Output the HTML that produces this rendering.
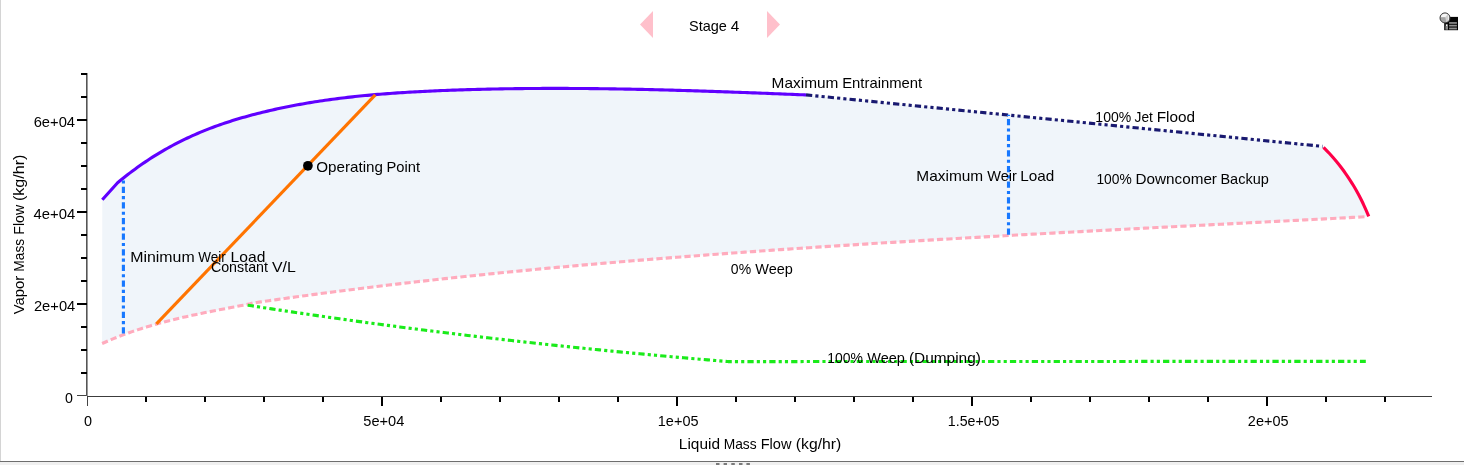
<!DOCTYPE html>
<html><head><meta charset="utf-8"><title>Stage 4</title>
<style>
html,body{margin:0;padding:0;background:#fff;}
body{width:1464px;height:465px;overflow:hidden;position:relative;}
svg{display:block;position:absolute;left:0;top:0;will-change:transform;}
</style></head>
<body>
<svg width="1464" height="465" viewBox="0 0 1464 465">
<rect x="0" y="0" width="1464" height="465" fill="#fff"/>
<rect x="0" y="0" width="1" height="462" fill="#d4d4d4"/>
<rect x="0" y="461" width="1464" height="1" fill="#6e6e6e"/>
<rect x="0" y="462" width="1464" height="3" fill="#f0f0f0"/>
<g fill="#7a7a7a"><rect x="716" y="463" width="3.5" height="2"/><rect x="723.6" y="463" width="3.4" height="2"/><rect x="731.3" y="463" width="3.5" height="2"/><rect x="739" y="463" width="3.5" height="2"/><rect x="746.4" y="463" width="3.5" height="2"/></g>
<polygon points="102.30,199.80 117.60,182.80 120.00,180.80 122.50,178.76 125.00,176.76 127.50,174.80 130.00,172.87 132.50,170.99 135.00,169.14 137.50,167.33 140.00,165.55 142.50,163.81 145.00,162.10 147.50,160.43 150.00,158.79 152.50,157.19 155.00,155.62 157.50,154.08 160.00,152.57 162.50,151.09 165.00,149.65 167.50,148.24 170.00,146.85 172.50,145.50 175.00,144.18 177.50,142.88 180.00,141.61 182.50,140.37 185.00,139.16 187.50,137.97 190.00,136.81 192.50,135.68 195.00,134.57 197.50,133.48 200.00,132.42 202.50,131.39 205.00,130.37 207.50,129.38 210.00,128.41 212.50,127.47 215.00,126.54 217.50,125.63 220.00,124.75 222.50,123.88 225.00,123.04 227.50,122.21 230.00,121.40 232.50,120.61 235.00,119.83 237.50,119.08 240.00,118.33 242.50,117.61 245.00,116.90 247.50,116.20 250.00,115.52 252.50,114.85 255.00,114.20 257.50,113.56 260.00,112.93 262.50,112.31 265.00,111.70 267.50,111.11 270.00,110.52 272.50,109.95 275.00,109.39 277.50,108.84 280.00,108.30 282.50,107.77 285.00,107.26 287.50,106.75 290.00,106.25 292.50,105.77 295.00,105.29 297.50,104.82 300.00,104.37 302.50,103.92 305.00,103.48 307.50,103.06 310.00,102.64 312.50,102.23 315.00,101.83 317.50,101.44 320.00,101.06 322.50,100.68 325.00,100.32 327.50,99.96 330.00,99.62 332.50,99.28 335.00,98.94 337.50,98.62 340.00,98.31 342.50,98.00 345.00,97.70 347.50,97.40 350.00,97.12 352.50,96.84 355.00,96.57 357.50,96.31 360.00,96.05 362.50,95.80 365.00,95.55 367.50,95.32 370.00,95.08 372.50,94.86 375.00,94.64 377.50,94.43 380.00,94.22 382.50,94.02 385.00,93.82 387.50,93.63 390.00,93.45 392.50,93.27 395.00,93.09 397.50,92.92 400.00,92.76 402.50,92.59 405.00,92.44 407.50,92.29 410.00,92.14 412.50,92.00 415.00,91.86 417.50,91.72 420.00,91.59 422.50,91.46 425.00,91.34 427.50,91.22 430.00,91.10 432.50,90.99 435.00,90.88 437.50,90.77 440.00,90.66 442.50,90.56 445.00,90.46 447.50,90.36 450.00,90.27 452.50,90.17 455.00,90.08 457.50,90.00 460.00,89.91 462.50,89.83 465.00,89.75 467.50,89.67 470.00,89.60 472.50,89.53 475.00,89.46 477.50,89.39 480.00,89.32 482.50,89.26 485.00,89.20 487.50,89.14 490.00,89.09 492.50,89.03 495.00,88.98 497.50,88.94 500.00,88.89 502.50,88.84 505.00,88.80 507.50,88.76 510.00,88.73 512.50,88.69 515.00,88.66 517.50,88.63 520.00,88.60 522.50,88.57 525.00,88.55 527.50,88.52 530.00,88.50 532.50,88.48 535.00,88.47 537.50,88.45 540.00,88.44 542.50,88.43 545.00,88.42 547.50,88.41 550.00,88.41 552.50,88.41 555.00,88.41 557.50,88.41 560.00,88.41 562.50,88.41 565.00,88.42 567.50,88.43 570.00,88.44 572.50,88.45 575.00,88.46 577.50,88.48 580.00,88.50 582.50,88.52 585.00,88.54 587.50,88.56 590.00,88.58 592.50,88.61 595.00,88.63 597.50,88.66 600.00,88.69 602.50,88.72 605.00,88.76 607.50,88.79 610.00,88.83 612.50,88.87 615.00,88.91 617.50,88.95 620.00,88.99 622.50,89.03 625.00,89.08 627.50,89.12 630.00,89.17 632.50,89.22 635.00,89.27 637.50,89.32 640.00,89.38 642.50,89.43 645.00,89.49 647.50,89.54 650.00,89.60 652.50,89.66 655.00,89.72 657.50,89.78 660.00,89.84 662.50,89.91 665.00,89.97 667.50,90.04 670.00,90.11 672.50,90.18 675.00,90.25 677.50,90.32 680.00,90.39 682.50,90.46 685.00,90.53 687.50,90.61 690.00,90.68 692.50,90.76 695.00,90.84 697.50,90.92 700.00,91.00 702.50,91.08 705.00,91.16 707.50,91.24 710.00,91.32 712.50,91.40 715.00,91.49 717.50,91.57 720.00,91.66 722.50,91.75 725.00,91.83 727.50,91.92 730.00,92.01 732.50,92.10 735.00,92.19 737.50,92.28 740.00,92.37 742.50,92.46 745.00,92.55 747.50,92.65 750.00,92.74 752.50,92.83 755.00,92.93 757.50,93.02 760.00,93.12 762.50,93.21 765.00,93.31 767.50,93.41 770.00,93.50 772.50,93.60 775.00,93.70 777.50,93.80 780.00,93.90 782.50,94.00 785.00,94.10 787.50,94.20 790.00,94.30 792.50,94.40 795.00,94.50 797.50,94.60 800.00,94.70 802.50,94.80 805.00,94.90 806.00,94.94 1322.60,146.40 1325.47,149.30 1327.38,151.30 1329.25,153.30 1331.06,155.30 1332.83,157.30 1334.56,159.30 1336.24,161.30 1337.88,163.30 1339.47,165.30 1341.02,167.30 1342.54,169.30 1344.01,171.30 1345.44,173.30 1346.84,175.30 1348.20,177.30 1349.52,179.30 1350.81,181.30 1352.07,183.30 1353.29,185.30 1354.48,187.30 1355.64,189.30 1356.76,191.30 1357.86,193.30 1358.93,195.30 1359.98,197.30 1360.99,199.30 1361.99,201.30 1362.95,203.30 1363.90,205.30 1364.82,207.30 1365.72,209.30 1366.60,211.30 1367.46,213.30 1368.30,215.30 1368.75,216.40 1365.00,216.78 1364.70,216.79 1360.70,217.00 1356.70,217.21 1352.70,217.42 1348.70,217.63 1344.70,217.84 1340.70,218.05 1336.70,218.26 1332.70,218.47 1328.70,218.67 1324.70,218.88 1320.70,219.09 1316.70,219.30 1312.70,219.50 1308.70,219.71 1304.70,219.92 1300.70,220.12 1296.70,220.33 1292.70,220.54 1288.70,220.74 1284.70,220.95 1280.70,221.16 1276.70,221.36 1272.70,221.57 1268.70,221.77 1264.70,221.98 1260.70,222.19 1256.70,222.39 1252.70,222.60 1248.70,222.80 1244.70,223.01 1240.70,223.21 1236.70,223.42 1232.70,223.63 1228.70,223.83 1224.70,224.04 1220.70,224.24 1216.70,224.45 1212.70,224.65 1208.70,224.86 1204.70,225.07 1200.70,225.27 1196.70,225.48 1192.70,225.69 1188.70,225.89 1184.70,226.10 1180.70,226.31 1176.70,226.51 1172.70,226.72 1168.70,226.93 1164.70,227.14 1160.70,227.35 1156.70,227.55 1152.70,227.76 1148.70,227.97 1144.70,228.18 1140.70,228.39 1136.70,228.60 1132.70,228.81 1128.70,229.02 1124.70,229.23 1120.70,229.44 1116.70,229.65 1112.70,229.86 1108.70,230.07 1104.70,230.29 1100.70,230.50 1096.70,230.71 1092.70,230.92 1088.70,231.14 1084.70,231.35 1080.70,231.57 1076.70,231.78 1072.70,232.00 1068.70,232.21 1064.70,232.43 1060.70,232.65 1056.70,232.86 1052.70,233.08 1048.70,233.30 1044.70,233.52 1040.70,233.74 1036.70,233.96 1032.70,234.18 1028.70,234.40 1024.70,234.62 1020.70,234.84 1016.70,235.06 1012.70,235.29 1008.70,235.51 1004.70,235.74 1000.70,235.96 996.70,236.19 992.70,236.41 988.70,236.64 984.70,236.87 980.70,237.10 976.70,237.33 972.70,237.56 968.70,237.79 964.70,238.02 960.70,238.25 956.70,238.48 952.70,238.72 948.70,238.95 944.70,239.19 940.70,239.42 936.70,239.66 932.70,239.90 928.70,240.13 924.70,240.37 920.70,240.61 916.70,240.85 912.70,241.10 908.70,241.34 904.70,241.58 900.70,241.83 896.70,242.07 892.70,242.32 888.70,242.56 884.70,242.81 880.70,243.06 876.70,243.31 872.70,243.56 868.70,243.81 864.70,244.07 860.70,244.32 856.70,244.57 852.70,244.83 848.70,245.09 844.70,245.35 840.70,245.60 836.70,245.86 832.70,246.13 828.70,246.39 824.70,246.65 820.70,246.91 816.70,247.18 812.70,247.45 808.70,247.71 804.70,247.98 800.70,248.25 796.70,248.52 792.70,248.80 788.70,249.07 784.70,249.35 780.70,249.62 776.70,249.90 772.70,250.18 768.70,250.46 764.70,250.74 760.70,251.02 756.70,251.30 752.70,251.59 748.70,251.87 744.70,252.16 740.70,252.45 736.70,252.74 732.70,253.03 728.70,253.32 724.70,253.62 720.70,253.91 716.70,254.21 712.70,254.51 708.70,254.81 704.70,255.11 700.70,255.41 696.70,255.71 692.70,256.02 688.70,256.33 684.70,256.63 680.70,256.94 676.70,257.26 672.70,257.57 668.70,257.88 664.70,258.20 660.70,258.52 656.70,258.84 652.70,259.16 648.70,259.48 644.70,259.81 640.70,260.13 636.70,260.46 632.70,260.79 628.70,261.13 624.70,261.46 620.70,261.79 616.70,262.13 612.70,262.47 608.70,262.81 604.70,263.16 600.70,263.50 596.70,263.85 592.70,264.20 588.70,264.55 584.70,264.90 580.70,265.26 576.70,265.61 572.70,265.97 568.70,266.34 564.70,266.70 560.70,267.06 556.70,267.43 552.70,267.80 548.70,268.17 544.70,268.55 540.70,268.92 536.70,269.30 532.70,269.68 528.70,270.07 524.70,270.45 520.70,270.84 516.70,271.23 512.70,271.62 508.70,272.02 504.70,272.42 500.70,272.81 496.70,273.22 492.70,273.62 488.70,274.03 484.70,274.44 480.70,274.85 476.70,275.26 472.70,275.68 468.70,276.10 464.70,276.52 460.70,276.95 456.70,277.37 452.70,277.80 448.70,278.24 444.70,278.67 440.70,279.11 436.70,279.55 432.70,279.99 428.70,280.44 424.70,280.89 420.70,281.34 416.70,281.79 412.70,282.25 408.70,282.71 404.70,283.17 400.70,283.64 396.70,284.10 392.70,284.57 388.70,285.05 384.70,285.53 380.70,286.01 376.70,286.49 372.70,286.97 368.70,287.46 364.70,287.96 360.70,288.45 356.70,288.95 352.70,289.45 348.70,289.95 344.70,290.46 340.70,290.97 336.70,291.49 332.70,292.00 328.70,292.52 324.70,293.05 320.70,293.57 316.70,294.10 312.70,294.63 308.70,295.17 304.70,295.71 300.70,296.25 296.70,296.80 292.70,297.35 288.70,297.90 284.70,298.46 280.70,299.02 276.70,299.58 272.70,300.15 268.70,300.72 264.70,301.29 260.70,301.87 256.70,302.45 252.70,303.03 249.70,303.94 249.10,304.06 246.10,304.64 243.10,305.22 240.10,305.80 237.10,306.38 234.10,306.95 231.10,307.53 228.10,308.10 225.10,308.68 222.10,309.26 219.10,309.84 216.10,310.42 213.10,311.01 210.10,311.60 207.10,312.20 204.10,312.81 201.10,313.43 198.10,314.05 195.10,314.69 192.10,315.33 189.10,315.98 186.10,316.65 183.10,317.33 180.10,318.03 177.10,318.73 174.10,319.46 171.10,320.20 168.10,320.95 165.10,321.73 162.10,322.52 159.10,323.33 156.10,324.16 153.10,325.01 150.10,325.89 147.10,326.79 144.10,327.71 141.10,328.65 138.10,329.62 135.10,330.62 132.10,331.64 129.10,332.70 126.10,333.78 123.10,334.88 120.10,336.02 117.10,337.19 114.10,338.40 111.10,339.63 108.10,340.90 105.10,342.20 102.10,343.54" fill="#f0f5fa"/>
<rect x="86" y="73" width="1" height="323" fill="#555"/>
<rect x="87" y="73" width="1" height="323" fill="#999"/>
<rect x="87" y="396" width="1345" height="1" fill="#3c3c3c"/>
<g fill="#000">
<rect x="145" y="397" width="2" height="5"/>
<rect x="204" y="397" width="2" height="5"/>
<rect x="263" y="397" width="2" height="5"/>
<rect x="322" y="397" width="2" height="5"/>
<rect x="381" y="397" width="2" height="9"/>
<rect x="440" y="397" width="2" height="5"/>
<rect x="499" y="397" width="2" height="5"/>
<rect x="558" y="397" width="2" height="5"/>
<rect x="617" y="397" width="2" height="5"/>
<rect x="676" y="397" width="2" height="9"/>
<rect x="735" y="397" width="2" height="5"/>
<rect x="794" y="397" width="2" height="5"/>
<rect x="853" y="397" width="2" height="5"/>
<rect x="912" y="397" width="2" height="5"/>
<rect x="971" y="397" width="2" height="9"/>
<rect x="1030" y="397" width="2" height="5"/>
<rect x="1089" y="397" width="2" height="5"/>
<rect x="1148" y="397" width="2" height="5"/>
<rect x="1207" y="397" width="2" height="5"/>
<rect x="1266" y="397" width="2" height="9"/>
<rect x="1325" y="397" width="2" height="5"/>
<rect x="1384" y="397" width="2" height="5"/>
<rect x="81" y="372" width="6" height="2"/>
<rect x="81" y="349" width="6" height="2"/>
<rect x="81" y="326" width="6" height="2"/>
<rect x="77" y="303" width="10" height="2"/>
<rect x="81" y="280" width="6" height="2"/>
<rect x="81" y="257" width="6" height="2"/>
<rect x="81" y="234" width="6" height="2"/>
<rect x="77" y="211" width="10" height="2"/>
<rect x="81" y="188" width="6" height="2"/>
<rect x="81" y="165" width="6" height="2"/>
<rect x="81" y="142" width="6" height="2"/>
<rect x="77" y="119" width="10" height="2"/>
<rect x="81" y="96" width="6" height="2"/>
<rect x="81" y="73" width="6" height="2"/>
</g>
<rect x="87" y="397" width="1" height="9" fill="#444"/>
<rect x="77" y="395" width="9" height="1" fill="#444"/>
<g font-family='"Liberation Sans", Arial, sans-serif' fill="#000">
<text x="65.14" y="402.7" font-size="13.9" textLength="7.91" lengthAdjust="spacingAndGlyphs">0</text>
<text x="33.96" y="310.8" font-size="13.9" textLength="41.27" lengthAdjust="spacingAndGlyphs">2e+04</text>
<text x="33.56" y="218.8" font-size="13.9" textLength="41.68" lengthAdjust="spacingAndGlyphs">4e+04</text>
<text x="33.65" y="126.9" font-size="13.9" textLength="41.38" lengthAdjust="spacingAndGlyphs">6e+04</text>
<text x="83.94" y="425.9" font-size="13.9" textLength="8.03" lengthAdjust="spacingAndGlyphs">0</text>
<text x="363.32" y="425.9" font-size="13.9" textLength="41.01" lengthAdjust="spacingAndGlyphs">5e+04</text>
<text x="657.80" y="425.9" font-size="13.9" textLength="40.71" lengthAdjust="spacingAndGlyphs">1e+05</text>
<text x="947.82" y="425.9" font-size="13.9" textLength="51.68" lengthAdjust="spacingAndGlyphs">1.5e+05</text>
<text x="1247.87" y="425.9" font-size="13.9" textLength="40.64" lengthAdjust="spacingAndGlyphs">2e+05</text>
<text y="448.6" font-size="15"><tspan x="678.83" textLength="41.16" lengthAdjust="spacingAndGlyphs">Liquid</tspan> <tspan x="723.67" textLength="32.93" lengthAdjust="spacingAndGlyphs">Mass</tspan> <tspan x="760.70" textLength="30.76" lengthAdjust="spacingAndGlyphs">Flow</tspan> <tspan x="795.82" textLength="45.45" lengthAdjust="spacingAndGlyphs">(kg/hr)</tspan></text>
<g transform="translate(23.6,0) rotate(-90)">
<text y="0" font-size="15"><tspan x="-314.26" textLength="38.50" lengthAdjust="spacingAndGlyphs">Vapor</tspan> <tspan x="-271.63" textLength="32.82" lengthAdjust="spacingAndGlyphs">Mass</tspan> <tspan x="-234.66" textLength="29.82" lengthAdjust="spacingAndGlyphs">Flow</tspan> <tspan x="-201.00" textLength="46.39" lengthAdjust="spacingAndGlyphs">(kg/hr)</tspan></text>
</g>
</g>
<polyline points="102.10,343.54 105.10,342.20 108.10,340.90 111.10,339.63 114.10,338.40 117.10,337.19 120.10,336.02 123.10,334.88 126.10,333.78 129.10,332.70 132.10,331.64 135.10,330.62 138.10,329.62 141.10,328.65 144.10,327.71 147.10,326.79 150.10,325.89 153.10,325.01 156.10,324.16 159.10,323.33 162.10,322.52 165.10,321.73 168.10,320.95 171.10,320.20 174.10,319.46 177.10,318.73 180.10,318.03 183.10,317.33 186.10,316.65 189.10,315.98 192.10,315.33 195.10,314.69 198.10,314.05 201.10,313.43 204.10,312.81 207.10,312.20 210.10,311.60 213.10,311.01 216.10,310.42 219.10,309.84 222.10,309.26 225.10,308.68 228.10,308.10 231.10,307.53 234.10,306.95 237.10,306.38 240.10,305.80 243.10,305.22 246.10,304.64 249.10,304.06 249.70,303.94 252.70,303.03 256.70,302.45 260.70,301.87 264.70,301.29 268.70,300.72 272.70,300.15 276.70,299.58 280.70,299.02 284.70,298.46 288.70,297.90 292.70,297.35 296.70,296.80 300.70,296.25 304.70,295.71 308.70,295.17 312.70,294.63 316.70,294.10 320.70,293.57 324.70,293.05 328.70,292.52 332.70,292.00 336.70,291.49 340.70,290.97 344.70,290.46 348.70,289.95 352.70,289.45 356.70,288.95 360.70,288.45 364.70,287.96 368.70,287.46 372.70,286.97 376.70,286.49 380.70,286.01 384.70,285.53 388.70,285.05 392.70,284.57 396.70,284.10 400.70,283.64 404.70,283.17 408.70,282.71 412.70,282.25 416.70,281.79 420.70,281.34 424.70,280.89 428.70,280.44 432.70,279.99 436.70,279.55 440.70,279.11 444.70,278.67 448.70,278.24 452.70,277.80 456.70,277.37 460.70,276.95 464.70,276.52 468.70,276.10 472.70,275.68 476.70,275.26 480.70,274.85 484.70,274.44 488.70,274.03 492.70,273.62 496.70,273.22 500.70,272.81 504.70,272.42 508.70,272.02 512.70,271.62 516.70,271.23 520.70,270.84 524.70,270.45 528.70,270.07 532.70,269.68 536.70,269.30 540.70,268.92 544.70,268.55 548.70,268.17 552.70,267.80 556.70,267.43 560.70,267.06 564.70,266.70 568.70,266.34 572.70,265.97 576.70,265.61 580.70,265.26 584.70,264.90 588.70,264.55 592.70,264.20 596.70,263.85 600.70,263.50 604.70,263.16 608.70,262.81 612.70,262.47 616.70,262.13 620.70,261.79 624.70,261.46 628.70,261.13 632.70,260.79 636.70,260.46 640.70,260.13 644.70,259.81 648.70,259.48 652.70,259.16 656.70,258.84 660.70,258.52 664.70,258.20 668.70,257.88 672.70,257.57 676.70,257.26 680.70,256.94 684.70,256.63 688.70,256.33 692.70,256.02 696.70,255.71 700.70,255.41 704.70,255.11 708.70,254.81 712.70,254.51 716.70,254.21 720.70,253.91 724.70,253.62 728.70,253.32 732.70,253.03 736.70,252.74 740.70,252.45 744.70,252.16 748.70,251.87 752.70,251.59 756.70,251.30 760.70,251.02 764.70,250.74 768.70,250.46 772.70,250.18 776.70,249.90 780.70,249.62 784.70,249.35 788.70,249.07 792.70,248.80 796.70,248.52 800.70,248.25 804.70,247.98 808.70,247.71 812.70,247.45 816.70,247.18 820.70,246.91 824.70,246.65 828.70,246.39 832.70,246.13 836.70,245.86 840.70,245.60 844.70,245.35 848.70,245.09 852.70,244.83 856.70,244.57 860.70,244.32 864.70,244.07 868.70,243.81 872.70,243.56 876.70,243.31 880.70,243.06 884.70,242.81 888.70,242.56 892.70,242.32 896.70,242.07 900.70,241.83 904.70,241.58 908.70,241.34 912.70,241.10 916.70,240.85 920.70,240.61 924.70,240.37 928.70,240.13 932.70,239.90 936.70,239.66 940.70,239.42 944.70,239.19 948.70,238.95 952.70,238.72 956.70,238.48 960.70,238.25 964.70,238.02 968.70,237.79 972.70,237.56 976.70,237.33 980.70,237.10 984.70,236.87 988.70,236.64 992.70,236.41 996.70,236.19 1000.70,235.96 1004.70,235.74 1008.70,235.51 1012.70,235.29 1016.70,235.06 1020.70,234.84 1024.70,234.62 1028.70,234.40 1032.70,234.18 1036.70,233.96 1040.70,233.74 1044.70,233.52 1048.70,233.30 1052.70,233.08 1056.70,232.86 1060.70,232.65 1064.70,232.43 1068.70,232.21 1072.70,232.00 1076.70,231.78 1080.70,231.57 1084.70,231.35 1088.70,231.14 1092.70,230.92 1096.70,230.71 1100.70,230.50 1104.70,230.29 1108.70,230.07 1112.70,229.86 1116.70,229.65 1120.70,229.44 1124.70,229.23 1128.70,229.02 1132.70,228.81 1136.70,228.60 1140.70,228.39 1144.70,228.18 1148.70,227.97 1152.70,227.76 1156.70,227.55 1160.70,227.35 1164.70,227.14 1168.70,226.93 1172.70,226.72 1176.70,226.51 1180.70,226.31 1184.70,226.10 1188.70,225.89 1192.70,225.69 1196.70,225.48 1200.70,225.27 1204.70,225.07 1208.70,224.86 1212.70,224.65 1216.70,224.45 1220.70,224.24 1224.70,224.04 1228.70,223.83 1232.70,223.63 1236.70,223.42 1240.70,223.21 1244.70,223.01 1248.70,222.80 1252.70,222.60 1256.70,222.39 1260.70,222.19 1264.70,221.98 1268.70,221.77 1272.70,221.57 1276.70,221.36 1280.70,221.16 1284.70,220.95 1288.70,220.74 1292.70,220.54 1296.70,220.33 1300.70,220.12 1304.70,219.92 1308.70,219.71 1312.70,219.50 1316.70,219.30 1320.70,219.09 1324.70,218.88 1328.70,218.67 1332.70,218.47 1336.70,218.26 1340.70,218.05 1344.70,217.84 1348.70,217.63 1352.70,217.42 1356.70,217.21 1360.70,217.00 1364.70,216.79 1365.00,216.78" fill="none" stroke="#ffabbd" stroke-width="3.125" stroke-dasharray="6.25 3.125"/>
<polyline points="247.70,305.21 251.70,305.83 255.70,306.45 259.70,307.06 263.70,307.68 267.70,308.29 271.70,308.90 275.70,309.50 279.70,310.10 283.70,310.70 287.70,311.30 291.70,311.90 295.70,312.49 299.70,313.08 303.70,313.66 307.70,314.25 311.70,314.83 315.70,315.41 319.70,315.98 323.70,316.56 327.70,317.13 331.70,317.69 335.70,318.26 339.70,318.82 343.70,319.38 347.70,319.94 351.70,320.49 355.70,321.05 359.70,321.59 363.70,322.14 367.70,322.69 371.70,323.23 375.70,323.77 379.70,324.30 383.70,324.83 387.70,325.37 391.70,325.89 395.70,326.42 399.70,326.94 403.70,327.46 407.70,327.98 411.70,328.50 415.70,329.01 419.70,329.52 423.70,330.03 427.70,330.53 431.70,331.04 435.70,331.54 439.70,332.03 443.70,332.53 447.70,333.02 451.70,333.51 455.70,334.00 459.70,334.48 463.70,334.97 467.70,335.45 471.70,335.92 475.70,336.40 479.70,336.87 483.70,337.34 487.70,337.81 491.70,338.27 495.70,338.74 499.70,339.20 503.70,339.65 507.70,340.11 511.70,340.56 515.70,341.01 519.70,341.46 523.70,341.91 527.70,342.35 531.70,342.79 535.70,343.23 539.70,343.66 543.70,344.10 547.70,344.53 551.70,344.96 555.70,345.38 559.70,345.81 563.70,346.23 567.70,346.65 571.70,347.07 575.70,347.48 579.70,347.89 583.70,348.30 587.70,348.71 591.70,349.12 595.70,349.52 599.70,349.92 603.70,350.32 607.70,350.71 611.70,351.11 615.70,351.50 619.70,351.89 623.70,352.27 627.70,352.66 631.70,353.04 635.70,353.42 639.70,353.80 643.70,354.17 647.70,354.55 651.70,354.92 655.70,355.28 659.70,355.65 663.70,356.01 667.70,356.38 671.70,356.74 675.70,357.09 679.70,357.45 683.70,357.80 687.70,358.15 691.70,358.50 695.70,358.85 699.70,359.19 703.70,359.53 707.70,359.87 711.70,360.21 715.70,360.54 719.70,360.88 723.70,361.21 727.70,361.54 728.40,361.59 1365.80,361.35" fill="none" stroke="#1aeb1a" stroke-width="3.125" stroke-dasharray="6.25 3.125 3.125 3.125 3.125 3.125"/>
<polyline points="102.30,199.80 117.60,182.80 120.00,180.80 122.50,178.76 125.00,176.76 127.50,174.80 130.00,172.87 132.50,170.99 135.00,169.14 137.50,167.33 140.00,165.55 142.50,163.81 145.00,162.10 147.50,160.43 150.00,158.79 152.50,157.19 155.00,155.62 157.50,154.08 160.00,152.57 162.50,151.09 165.00,149.65 167.50,148.24 170.00,146.85 172.50,145.50 175.00,144.18 177.50,142.88 180.00,141.61 182.50,140.37 185.00,139.16 187.50,137.97 190.00,136.81 192.50,135.68 195.00,134.57 197.50,133.48 200.00,132.42 202.50,131.39 205.00,130.37 207.50,129.38 210.00,128.41 212.50,127.47 215.00,126.54 217.50,125.63 220.00,124.75 222.50,123.88 225.00,123.04 227.50,122.21 230.00,121.40 232.50,120.61 235.00,119.83 237.50,119.08 240.00,118.33 242.50,117.61 245.00,116.90 247.50,116.20 250.00,115.52 252.50,114.85 255.00,114.20 257.50,113.56 260.00,112.93 262.50,112.31 265.00,111.70 267.50,111.11 270.00,110.52 272.50,109.95 275.00,109.39 277.50,108.84 280.00,108.30 282.50,107.77 285.00,107.26 287.50,106.75 290.00,106.25 292.50,105.77 295.00,105.29 297.50,104.82 300.00,104.37 302.50,103.92 305.00,103.48 307.50,103.06 310.00,102.64 312.50,102.23 315.00,101.83 317.50,101.44 320.00,101.06 322.50,100.68 325.00,100.32 327.50,99.96 330.00,99.62 332.50,99.28 335.00,98.94 337.50,98.62 340.00,98.31 342.50,98.00 345.00,97.70 347.50,97.40 350.00,97.12 352.50,96.84 355.00,96.57 357.50,96.31 360.00,96.05 362.50,95.80 365.00,95.55 367.50,95.32 370.00,95.08 372.50,94.86 375.00,94.64 377.50,94.43 380.00,94.22 382.50,94.02 385.00,93.82 387.50,93.63 390.00,93.45 392.50,93.27 395.00,93.09 397.50,92.92 400.00,92.76 402.50,92.59 405.00,92.44 407.50,92.29 410.00,92.14 412.50,92.00 415.00,91.86 417.50,91.72 420.00,91.59 422.50,91.46 425.00,91.34 427.50,91.22 430.00,91.10 432.50,90.99 435.00,90.88 437.50,90.77 440.00,90.66 442.50,90.56 445.00,90.46 447.50,90.36 450.00,90.27 452.50,90.17 455.00,90.08 457.50,90.00 460.00,89.91 462.50,89.83 465.00,89.75 467.50,89.67 470.00,89.60 472.50,89.53 475.00,89.46 477.50,89.39 480.00,89.32 482.50,89.26 485.00,89.20 487.50,89.14 490.00,89.09 492.50,89.03 495.00,88.98 497.50,88.94 500.00,88.89 502.50,88.84 505.00,88.80 507.50,88.76 510.00,88.73 512.50,88.69 515.00,88.66 517.50,88.63 520.00,88.60 522.50,88.57 525.00,88.55 527.50,88.52 530.00,88.50 532.50,88.48 535.00,88.47 537.50,88.45 540.00,88.44 542.50,88.43 545.00,88.42 547.50,88.41 550.00,88.41 552.50,88.41 555.00,88.41 557.50,88.41 560.00,88.41 562.50,88.41 565.00,88.42 567.50,88.43 570.00,88.44 572.50,88.45 575.00,88.46 577.50,88.48 580.00,88.50 582.50,88.52 585.00,88.54 587.50,88.56 590.00,88.58 592.50,88.61 595.00,88.63 597.50,88.66 600.00,88.69 602.50,88.72 605.00,88.76 607.50,88.79 610.00,88.83 612.50,88.87 615.00,88.91 617.50,88.95 620.00,88.99 622.50,89.03 625.00,89.08 627.50,89.12 630.00,89.17 632.50,89.22 635.00,89.27 637.50,89.32 640.00,89.38 642.50,89.43 645.00,89.49 647.50,89.54 650.00,89.60 652.50,89.66 655.00,89.72 657.50,89.78 660.00,89.84 662.50,89.91 665.00,89.97 667.50,90.04 670.00,90.11 672.50,90.18 675.00,90.25 677.50,90.32 680.00,90.39 682.50,90.46 685.00,90.53 687.50,90.61 690.00,90.68 692.50,90.76 695.00,90.84 697.50,90.92 700.00,91.00 702.50,91.08 705.00,91.16 707.50,91.24 710.00,91.32 712.50,91.40 715.00,91.49 717.50,91.57 720.00,91.66 722.50,91.75 725.00,91.83 727.50,91.92 730.00,92.01 732.50,92.10 735.00,92.19 737.50,92.28 740.00,92.37 742.50,92.46 745.00,92.55 747.50,92.65 750.00,92.74 752.50,92.83 755.00,92.93 757.50,93.02 760.00,93.12 762.50,93.21 765.00,93.31 767.50,93.41 770.00,93.50 772.50,93.60 775.00,93.70 777.50,93.80 780.00,93.90 782.50,94.00 785.00,94.10 787.50,94.20 790.00,94.30 792.50,94.40 795.00,94.50 797.50,94.60 800.00,94.70 802.50,94.80 805.00,94.90 806.00,94.94" fill="none" stroke="#6000ff" stroke-width="3.125" stroke-linejoin="round"/>
<polyline points="806.00,94.90 1322.60,146.40" fill="none" stroke="#191970" stroke-width="3.125" stroke-dasharray="6.25 3.125 3.125 3.125 3.125 3.125"/>
<polyline points="1323.51,147.30 1325.47,149.30 1327.38,151.30 1329.25,153.30 1331.06,155.30 1332.83,157.30 1334.56,159.30 1336.24,161.30 1337.88,163.30 1339.47,165.30 1341.02,167.30 1342.54,169.30 1344.01,171.30 1345.44,173.30 1346.84,175.30 1348.20,177.30 1349.52,179.30 1350.81,181.30 1352.07,183.30 1353.29,185.30 1354.48,187.30 1355.64,189.30 1356.76,191.30 1357.86,193.30 1358.93,195.30 1359.98,197.30 1360.99,199.30 1361.99,201.30 1362.95,203.30 1363.90,205.30 1364.82,207.30 1365.72,209.30 1366.60,211.30 1367.46,213.30 1368.30,215.30 1368.75,216.40" fill="none" stroke="#ff0048" stroke-width="3.125" stroke-linejoin="round"/>
<line x1="156.4" y1="323.85" x2="375.3" y2="94.9" stroke="#ff7400" stroke-width="3.125"/>
<line x1="123.4" y1="333.6" x2="123.4" y2="178.0" stroke="#1778ff" stroke-width="3.125" stroke-dasharray="6.25 3.125 3.125 3.125"/>
<line x1="1008.5" y1="234.7" x2="1008.5" y2="114.8" stroke="#1778ff" stroke-width="3.125" stroke-dasharray="6.25 3.125 3.125 3.125"/>
<circle cx="307.9" cy="165.8" r="4.85" fill="#000"/>
<g font-family='"Liberation Sans", Arial, sans-serif' fill="#000">
<text y="261.8" font-size="15"><tspan x="130.20" textLength="64.45" lengthAdjust="spacingAndGlyphs">Minimum</tspan> <tspan x="198.24" textLength="27.48" lengthAdjust="spacingAndGlyphs">Weir</tspan> <tspan x="230.62" textLength="34.79" lengthAdjust="spacingAndGlyphs">Load</tspan></text>
<text y="272.4" font-size="15"><tspan x="210.88" textLength="57.13" lengthAdjust="spacingAndGlyphs">Constant</tspan> <tspan x="271.93" textLength="23.80" lengthAdjust="spacingAndGlyphs">V/L</tspan></text>
<text y="171.8" font-size="15"><tspan x="316.28" textLength="66.70" lengthAdjust="spacingAndGlyphs">Operating</tspan> <tspan x="386.49" textLength="33.51" lengthAdjust="spacingAndGlyphs">Point</tspan></text>
<text y="87.7" font-size="15"><tspan x="771.64" textLength="66.78" lengthAdjust="spacingAndGlyphs">Maximum</tspan> <tspan x="842.18" textLength="80.03" lengthAdjust="spacingAndGlyphs">Entrainment</tspan></text>
<text y="121.5" font-size="15"><tspan x="1095.33" textLength="35.87" lengthAdjust="spacingAndGlyphs">100%</tspan> <tspan x="1134.59" textLength="18.32" lengthAdjust="spacingAndGlyphs">Jet</tspan> <tspan x="1156.74" textLength="38.35" lengthAdjust="spacingAndGlyphs">Flood</tspan></text>
<text y="181.1" font-size="15"><tspan x="916.33" textLength="66.88" lengthAdjust="spacingAndGlyphs">Maximum</tspan> <tspan x="987.24" textLength="29.50" lengthAdjust="spacingAndGlyphs">Weir</tspan> <tspan x="1020.34" textLength="34.04" lengthAdjust="spacingAndGlyphs">Load</tspan></text>
<text y="183.8" font-size="15"><tspan x="1096.45" textLength="35.35" lengthAdjust="spacingAndGlyphs">100%</tspan> <tspan x="1135.55" textLength="81.41" lengthAdjust="spacingAndGlyphs">Downcomer</tspan> <tspan x="1220.41" textLength="48.40" lengthAdjust="spacingAndGlyphs">Backup</tspan></text>
<text y="274.0" font-size="15"><tspan x="730.85" textLength="20.25" lengthAdjust="spacingAndGlyphs">0%</tspan> <tspan x="755.24" textLength="37.57" lengthAdjust="spacingAndGlyphs">Weep</tspan></text>
<text y="363.4" font-size="15"><tspan x="827.14" textLength="35.66" lengthAdjust="spacingAndGlyphs">100%</tspan> <tspan x="867.34" textLength="37.57" lengthAdjust="spacingAndGlyphs">Weep</tspan> <tspan x="908.94" textLength="71.91" lengthAdjust="spacingAndGlyphs">(Dumping)</tspan></text>
<text y="30.9" font-size="15"><tspan x="689.04" textLength="37.90" lengthAdjust="spacingAndGlyphs">Stage</tspan> <tspan x="730.65" textLength="8.50" lengthAdjust="spacingAndGlyphs">4</tspan></text>
</g>
<polygon points="653,11 653,38 640,24.5" fill="#ffc0cb"/>
<polygon points="767,11 767,38 780,24.5" fill="#ffc0cb"/>
<g>
<rect x="1444.2" y="16.9" width="13.8" height="13.3" fill="#050505"/>
<rect x="1449.1" y="22.1" width="7.8" height="1.7" fill="#8e8e8e"/>
<rect x="1449.1" y="24.8" width="7.8" height="1.7" fill="#8e8e8e"/>
<rect x="1449.1" y="27.6" width="7.8" height="1.8" fill="#8e8e8e"/>
<rect x="1445.4" y="26.1" width="2.6" height="3.6" fill="#8a8a8a"/>
<rect x="1445.8" y="24.3" width="1.8" height="1.8" fill="#f4f4f4"/>
<circle cx="1445.0" cy="17.9" r="4.8" fill="#d0d0d0"/>
<path d="M1445.2,17.3 L1440.3,17.3 A4.8,4.8 0 0,1 1448.0,14.0 Z" fill="#f6f6f6"/>
<path d="M1445.2,17.3 L1440.3,17.3 A4.8,4.8 0 0,0 1446.4,22.6 Z" fill="#a4a4a4"/>
<rect x="1448.1" y="14.6" width="1.0" height="6.8" fill="#f0f0f0"/>
<circle cx="1445.0" cy="17.9" r="5.0" fill="none" stroke="#383838" stroke-width="1"/>
</g>
</svg>
</body></html>
